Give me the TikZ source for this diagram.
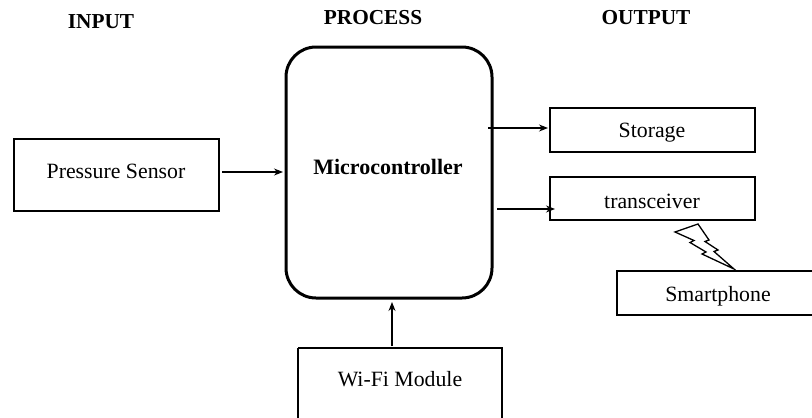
\documentclass[tikz,border=0pt]{standalone}
\usepackage{fontspec}
\setmainfont{Liberation Serif}
\usetikzlibrary{arrows.meta}
\begin{document}
\begin{tikzpicture}[x=1pt,y=-1pt,
  every node/.style={font=\fontsize{21.8}{24}\selectfont},
  head/.style={font=\fontsize{21.3}{24}\selectfont\bfseries},
  link/.style={line width=1.1pt, -{Stealth[length=9pt,width=7pt]}}]
\useasboundingbox (0,0) rectangle (812,418);
\begin{scope}
\clip (0,0) rectangle (812,418);

% column headings
\node[head] (hin)  at (101,22) {INPUT};
\node[head] (hpro) at (373,18) {PROCESS};
\node[head] (hout) at (646,18) {OUTPUT};

% input
\draw[line width=2pt] (14,139) rectangle (219,211);
\node (sensor) at (116,171) {Pressure Sensor};
\coordinate (sensorR) at (222,172);

% process
\draw[line width=3pt, rounded corners=30pt] (286,47) rectangle (492,298);
\node[font=\fontsize{22}{24}\selectfont\bfseries] (mcu) at (388,167) {Microcontroller};
\coordinate (mcuL) at (283,172);
\coordinate (mcuS) at (488,128);
\coordinate (mcuT) at (497,209);
\coordinate (mcuB) at (392,302);

% outputs
\draw[line width=2pt] (550,108) rectangle (755,152);
\node (storage) at (652,133) {Storage};
\coordinate (storageL) at (548,128);

\draw[line width=2pt] (550,177) rectangle (755,220);
\node (trx) at (652,201) {transceiver};
\coordinate (trxL) at (555,209);

\draw[line width=2pt] (617,271) rectangle (822,315);
\node (phone) at (718,296) {Smartphone};

% wireless link between transceiver and smartphone
\draw[line width=1.3pt, fill=white, line join=miter]
  (675,232) -- (698,224) -- (709,240) -- (705,241.5) -- (718,250)
  -- (714,251.5) -- (734,269) -- (702,254) -- (706,252)
  -- (690,242.5) -- (694,240.5) -- cycle;

% Wi-Fi module
\draw[line width=2pt] (298,348) -- (298,425) (298,348) -- (502,348) -- (502,425);
\node (wifi) at (400,379) {Wi-Fi Module};
\coordinate (wifiT) at (392,346);

% connectors
\draw[link] (sensorR) -- (mcuL);
\draw[link] (mcuS) -- (storageL);
\draw[link] (mcuT) -- (trxL);
\draw[link] (wifiT) -- (mcuB);
\end{scope}
\end{tikzpicture}
\end{document}
